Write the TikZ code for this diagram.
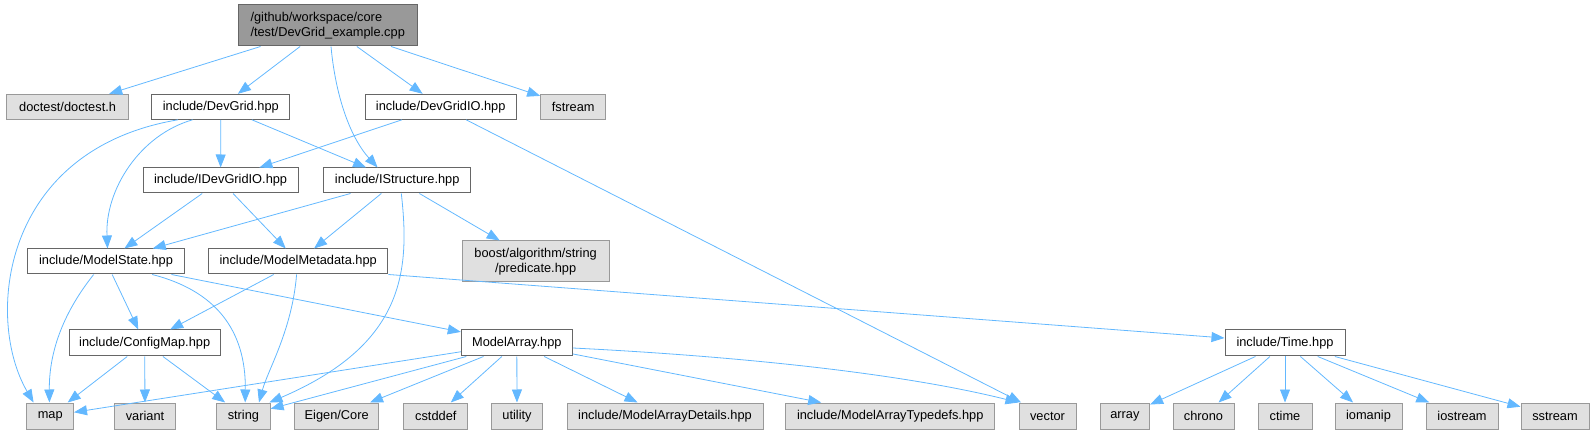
\documentclass[tikz,border=0pt]{standalone}
\usepackage{fontspec}
\setmainfont{Liberation Sans}
\usepackage{tikz}
\usetikzlibrary{arrows.meta}
\definecolor{GraphEdge}{HTML}{63B8FF}
\definecolor{GraphLine}{HTML}{666666}
\definecolor{GraphSysLine}{HTML}{999999}
\definecolor{GraphSysFill}{HTML}{E0E0E0}
\definecolor{GraphMain}{HTML}{999999}

\begin{document}
\begin{tikzpicture}[x=1pt,y=-1pt,font=\fontsize{12.8}{15}\selectfont,
  hdr/.style={draw=GraphLine,fill=white,line width=1pt,minimum height=25,inner sep=0pt},
  sys/.style={hdr,draw=GraphSysLine,fill=GraphSysFill,minimum height=26},
  dep/.style={draw=GraphEdge,line width=0.8pt,-{Triangle[length=13pt,width=10pt]}}]
  \useasboundingbox (0,0) rectangle (1595,435);
  % headers
  \node[hdr,fill=GraphMain,minimum width=179,minimum height=41,align=left] (main) at (327.7,25.5) {/github/workspace/core\\/test/DevGrid\_example.cpp};
  \node[sys,minimum width=122,minimum height=25] (doctest) at (67.6,106.8) {doctest/doctest.h};
  \node[hdr,minimum width=138] (devgrid) at (220.8,106.8) {include/DevGrid.hpp};
  \node[hdr,minimum width=151] (devgridio) at (440.7,106.8) {include/DevGridIO.hpp};
  \node[sys,minimum width=65,minimum height=25] (fstream) at (573.2,106.8) {fstream};
  \node[hdr,minimum width=155] (idevgridio) at (220.6,180.5) {include/IDevGridIO.hpp};
  \node[hdr,minimum width=147.5] (istructure) at (397.2,180.5) {include/IStructure.hpp};
  \node[hdr,minimum width=157] (mstate) at (106,261.5) {include/ModelState.hpp};
  \node[hdr,minimum width=179.5] (mmeta) at (298.2,261.5) {include/ModelMetadata.hpp};
  \node[sys,minimum width=147,minimum height=41,align=center] (boost) at (535.6,261.5) {boost/algorithm/string\\/predicate.hpp};
  \node[hdr,minimum width=151,minimum height=26] (cfgmap) at (144.7,343) {include/ConfigMap.hpp};
  \node[hdr,minimum width=111,minimum height=26] (marray) at (516.8,343) {ModelArray.hpp};
  \node[hdr,minimum width=120,minimum height=26] (timeh) at (1285,343) {include/Time.hpp};
  % system headers, bottom row
  \node[sys,minimum width=46.6] (map) at (50.2,416) {map};
  \node[sys,minimum width=60.5] (variant) at (145,416) {variant};
  \node[sys,minimum width=53.4] (string) at (243.4,416) {string};
  \node[sys,minimum width=84.2] (eigen) at (336.7,416) {Eigen/Core};
  \node[sys,minimum width=64.1] (cstddef) at (435.8,416) {cstddef};
  \node[sys,minimum width=51] (utility) at (517,416) {utility};
  \node[sys,minimum width=196] (details) at (665,416) {include/ModelArrayDetails.hpp};
  \node[sys,minimum width=208.8] (typedefs) at (890.2,416) {include/ModelArrayTypedefs.hpp};
  \node[sys,minimum width=57] (vector) at (1047.5,416) {vector};
  \foreach \n/\x/\w in {array/1124.9/49.4,chrono/1203.5/61,ctime/1285/54,iomanip/1368.5/67,iostream/1462/72,sstream/1555/68}
    \node[sys,minimum width=\w] (\n) at (\x,416) {\n};
  % includes
  \draw[dep] (main) -- (doctest);
  \draw[dep] (main) -- (devgrid);
  \draw[dep] ([xshift=3.3pt]main.south) .. controls +(5,54) and +(-25.6,-28) .. ([xshift=-19.6pt]istructure.north);
  \draw[dep] (main) -- (devgridio);
  \draw[dep] (main) -- (fstream);
  \draw[dep] ([xshift=-42.8pt]devgrid.south) .. controls +(-178,30) and +(-48.6,-83) .. ([xshift=-16.6pt]map.north);
  \draw[dep] ([xshift=-28.2pt]devgrid.south) .. controls +(-52.6,15) and +(-2.5,-59) .. ([xshift=1.5pt]mstate.north);
  \draw[dep] (devgrid) -- (idevgridio);
  \draw[dep] (devgrid) -- (istructure);
  \draw[dep] (devgridio) -- (idevgridio);
  \draw[dep] (devgridio) -- (vector);
  \draw[dep] (idevgridio) -- (mstate);
  \draw[dep] (idevgridio) -- (mmeta);
  \draw[dep] (istructure) -- (mstate);
  \draw[dep] (istructure) -- (mmeta);
  \draw[dep] ([xshift=4.1pt]istructure.south) .. controls +(8.7,77) and +(135.6,-58) .. ([xshift=26pt]string.north);
  \draw[dep] (istructure) -- (boost);
  \draw[dep] ([xshift=-12.3pt]mstate.south) .. controls +(-28.7,36) and +(-0.4,-53) .. ([xshift=-0.8pt]map.north);
  \draw[dep] (mstate) -- (cfgmap);
  \draw[dep] ([xshift=46.2pt]mstate.south) .. controls +(62.8,16) and +(0.8,-73) .. ([xshift=1.8pt]string.north);
  \draw[dep] (mstate) -- (marray);
  \draw[dep] (mmeta) -- (cfgmap);
  \draw[dep] ([xshift=-1.6pt]mmeta.south) .. controls +(-4.6,56) and +(9,-33) .. ([xshift=15.6pt]string.north);
  \draw[dep] (mmeta.south east) -- ([yshift=5pt]timeh.west);
  \draw[dep] (cfgmap) -- (map);
  \draw[dep] (cfgmap) -- (variant);
  \draw[dep] (cfgmap) -- (string);
  \foreach \n in {map,string,eigen,cstddef,utility,details,typedefs}
    \draw[dep] (marray) -- (\n);
  \draw[dep] ([yshift=-5pt]marray.east) .. controls +(160,8) and +(-120,-30) .. (vector.north west);
  \foreach \n in {array,chrono,ctime,iomanip,iostream,sstream}
    \draw[dep] (timeh) -- (\n);
\end{tikzpicture}
\end{document}
